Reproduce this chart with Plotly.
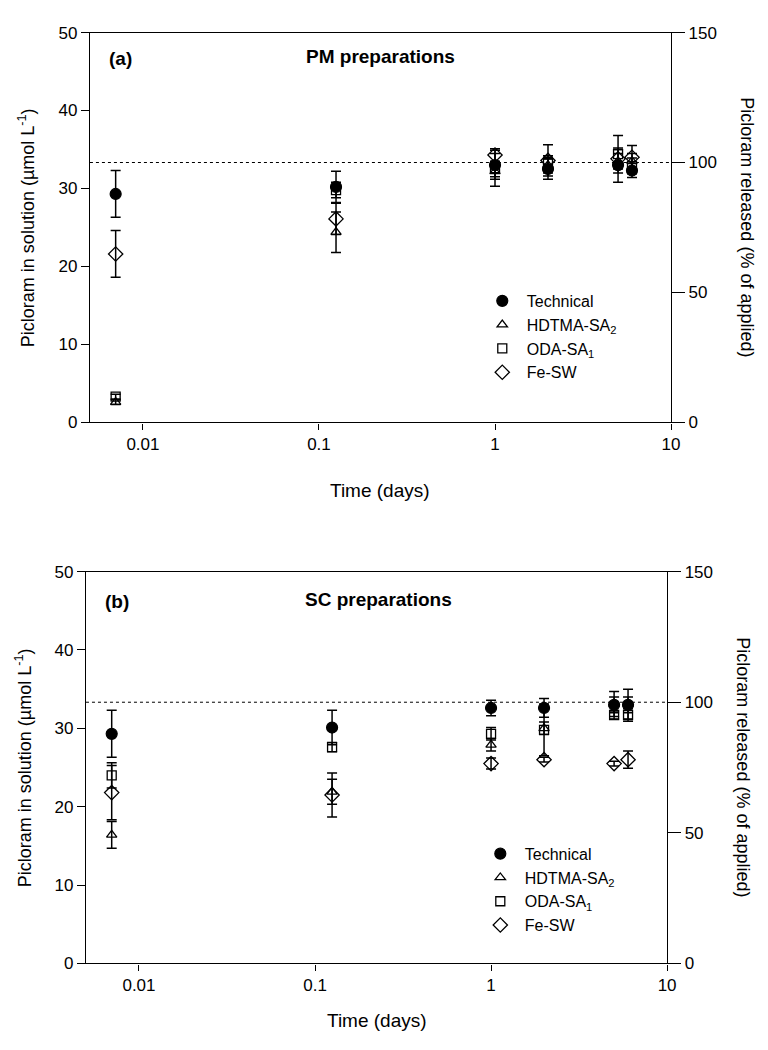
import math
import plotly.graph_objects as go

# ---------------- data ----------------
times = [0.007, 0.125, 1, 2, 5, 6]

# Panel (a) PM preparations (umol/L)
tech_a = [29.3, 30.2, 33.0, 32.5, 33.0, 32.3]
tech_a_err = [3.0, 2.0, 1.5, 1.3, 2.2, 0.9]
hdtma_a = [2.6, 24.4, 32.2, 33.0, 33.5, 33.5]
hdtma_a_err = [0.3, 2.6, 1.0, 1.0, 1.0, 1.0]
oda_a = [3.3, 29.8, 32.6, 33.2, 34.4, 32.9]
oda_a_err = [0.3, 1.0, 2.3, 1.0, 2.4, 1.0]
fesw_a = [21.6, 26.1, 34.3, 33.6, 33.8, 34.0]
fesw_a_err = [3.0, 2.0, 0.8, 2.0, 1.2, 1.5]

# Panel (b) SC preparations (umol/L)
tech_b = [29.3, 30.1, 32.6, 32.6, 33.0, 33.0]
tech_b_err = [3.0, 2.2, 1.0, 1.2, 1.0, 1.0]
hdtma_b = [16.4, 21.9, 27.9, 30.0, 33.1, 33.1]
hdtma_b_err = [1.7, 1.6, 0.8, 0.8, 1.6, 1.9]
oda_b = [24.0, 27.6, 29.3, 29.8, 31.7, 31.7]
oda_b_err = [1.6, 0.6, 0.8, 3.3, 0.5, 0.8]
fesw_b = [21.8, 21.5, 25.5, 26.0, 25.5, 26.0]
fesw_b_err = [3.45, 2.8, 0.7, 0.3, 0.3, 1.1]

series_names = ["Technical", "HDTMA-SA<sub>2</sub>", "ODA-SA<sub>1</sub>", "Fe-SW"]
applied_umol = 100 / 3  # 100 % of applied, in umol/L
x_ticks = [0.01, 0.1, 1, 10]
x_ticktext = ["0.01", "0.1", "1", "10"]
y_ticks = [0, 10, 20, 30, 40, 50]
y2_ticks = [0, 50, 100, 150]

FONT = "Liberation Sans, Arial, sans-serif"
W, H = 768, 1050

styles = [
    dict(symbol="circle", size=11, color="black", line=dict(color="black", width=1.2)),
    dict(symbol="triangle-up-open", size=9, color="black", line=dict(color="black", width=1.3)),
    dict(symbol="square-open", size=9, color="black", line=dict(color="black", width=1.3)),
    dict(symbol="diamond-open", size=11, color="black", line=dict(color="black", width=1.3)),
]

fig = go.Figure()

panels = [
    ("x", "y", "legend", [(tech_a, tech_a_err), (hdtma_a, hdtma_a_err), (oda_a, oda_a_err), (fesw_a, fesw_a_err)]),
    ("x2", "y3", "legend2", [(tech_b, tech_b_err), (hdtma_b, hdtma_b_err), (oda_b, oda_b_err), (fesw_b, fesw_b_err)]),
]

for xa, ya, leg, data in panels:
    for name, st, (vals, errs) in zip(series_names, styles, data):
        fig.add_trace(go.Scatter(
            x=times, y=vals, mode="markers", name="\u00a0" + name,
            xaxis=xa, yaxis=ya, legend=leg,
            marker=dict(symbol=st["symbol"], size=st["size"], color=st["color"],
                        line=st["line"]),
            error_y=dict(type="data", array=errs, visible=True, color="black",
                         thickness=1.5, width=5),
            cliponaxis=False,
        ))

# empty traces so right-hand axes are drawn
fig.add_trace(go.Scatter(x=[], y=[], xaxis="x", yaxis="y2", showlegend=False))
fig.add_trace(go.Scatter(x=[], y=[], xaxis="x2", yaxis="y4", showlegend=False))

# geometry (pixels)
a_left, a_right, a_top, a_bot = 91, 679, 24, 421
b_left, b_right, b_top, b_bot = 87, 675, 573, 972

def xd(l, r):
    return [l / W, r / W]

def yd(t, b):
    return [1 - b / H, 1 - t / H]

xr = [math.log10(0.005), math.log10(10)]

TICKFONT = dict(family=FONT, size=17, color="black")
common_x = dict(type="log", range=xr, showline=True, linecolor="black", linewidth=1.3,
                ticks="outside", ticklen=6, tickwidth=1.2, tickcolor="black",
                tickvals=x_ticks, ticktext=x_ticktext, showgrid=False, zeroline=False,
                mirror=True, tickfont=TICKFONT)
common_y = dict(range=[0, 50], showline=True, linecolor="black", linewidth=1.3,
                ticks="outside", ticklen=8, tickwidth=1.2, tickcolor="black",
                tickvals=y_ticks, showgrid=False, zeroline=False, tickfont=TICKFONT)
common_y2 = dict(range=[0, 150], showline=True, linecolor="black", linewidth=1.3,
                 ticks="outside", ticklen=13, tickwidth=1.2, tickcolor="black",
                 tickvals=y2_ticks, showgrid=False, zeroline=False, side="right",
                 tickfont=TICKFONT)

legend_common = dict(bgcolor="rgba(0,0,0,0)", font=dict(family=FONT, size=16, color="black"),
                     xanchor="left", yanchor="top", tracegroupgap=0, itemwidth=30)

fig.update_layout(
    width=W, height=H, margin=dict(l=0, r=0, t=0, b=0),
    paper_bgcolor="white", plot_bgcolor="white",
    font=dict(family=FONT, size=16, color="black"),
    xaxis=dict(common_x, domain=xd(a_left, a_right), anchor="y"),
    yaxis=dict(common_y, domain=yd(a_top, a_bot), anchor="x"),
    yaxis2=dict(common_y2, domain=yd(a_top, a_bot), anchor="x", overlaying="y"),
    xaxis2=dict(common_x, domain=xd(b_left, b_right), anchor="y3"),
    yaxis3=dict(common_y, domain=yd(b_top, b_bot), anchor="x2"),
    yaxis4=dict(common_y2, domain=yd(b_top, b_bot), anchor="x2", overlaying="y3"),
    legend=dict(legend_common, x=488 / W, y=1 - 280 / H),
    legend2=dict(legend_common, x=486 / W, y=1 - 843 / H),
    showlegend=True,
)

# dotted 100 % reference line
for xa, ya in [("x", "y"), ("x2", "y3")]:
    fig.add_shape(type="line", xref=f"{xa} domain", x0=0, x1=1, yref=ya,
                  y0=applied_umol, y1=applied_umol,
                  line=dict(color="black", width=1, dash="dot"), layer="below")

ann = []
def label(text, x, y, size=16, bold=False, angle=0):
    t = f"<b>{text}</b>" if bold else text
    ann.append(dict(text=t, x=x / W, y=1 - y / H, xref="paper", yref="paper",
                    showarrow=False, textangle=angle,
                    font=dict(family=FONT, size=size, color="black"),
                    xanchor="center", yanchor="middle"))

label("(a)", 122, 50, 19, True)
label("PM preparations", 385, 48, 19, True)
label("(b)", 118, 603, 19, True)
label("SC preparations", 383, 601, 19, True)
label("Time (days)", 385, 490, 19)
label("Time (days)", 381, 1030, 19)
label("Picloram in solution (µmol L<sup>-1</sup>)", 27, (a_top + a_bot) / 2, 18, angle=-90)
label("Picloram in solution (µmol L<sup>-1</sup>)", 24, (b_top + b_bot) / 2, 18, angle=-90)
label("Picloram released (% of applied)", 755, (a_top + a_bot) / 2, 18, angle=90)
label("Picloram released (% of applied)", 752, (b_top + b_bot) / 2, 18, angle=90)
fig.update_layout(annotations=ann)

fig.write_html("out.html")
